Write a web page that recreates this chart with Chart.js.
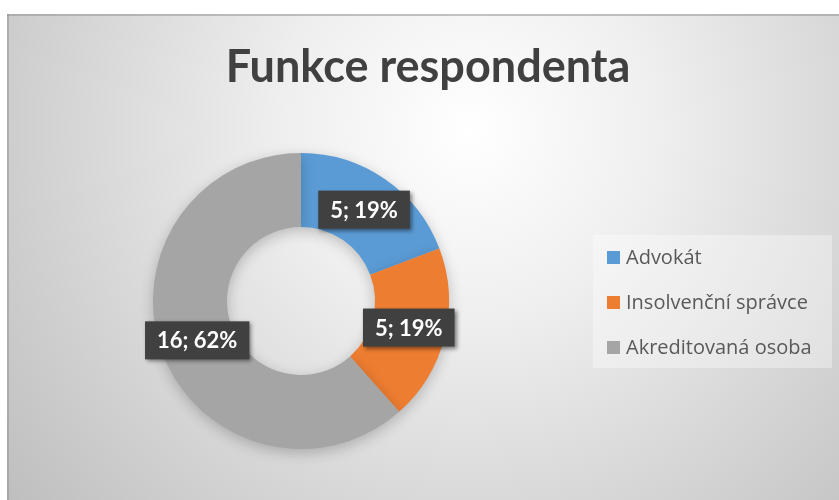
<!DOCTYPE html>
<html>
<head>
<meta charset="utf-8">
<script src="https://cdn.jsdelivr.net/npm/chart.js@4.4.1/dist/chart.umd.min.js"></script>
<style>
  html, body { margin: 0; padding: 0; background: #fff; }
  canvas { display: block; }
</style>
</head>
<body>
<canvas id="chart" width="839" height="500"></canvas>
<script>
// data
const chartTitle = 'Funkce respondenta';
const categories = ['Advokát', 'Insolvenční správce', 'Akreditovaná osoba'];
const counts = [5, 5, 16];
const colors = ['#5B9BD5', '#ED7D31', '#A5A5A5'];

const total = counts.reduce((s, x) => s + x, 0);
const FONT = 'Lato, "Open Sans", "Liberation Sans", sans-serif';

// panel background, title and legend
const backdrop = {
  id: 'backdrop',
  beforeDraw(chart) {
    const ctx = chart.ctx;
    ctx.save();
    ctx.fillStyle = '#ffffff';
    ctx.fillRect(0, 0, chart.width, chart.height);
    const g = ctx.createRadialGradient(470, 130, 0, 470, 130, 620);
    g.addColorStop(0, '#ffffff');
    g.addColorStop(0.3, '#efefef');
    g.addColorStop(1, '#bbbbbb');
    ctx.fillStyle = g;
    ctx.fillRect(7, 14, chart.width - 7, chart.height - 14);
    // thin edge on top / left
    ctx.fillStyle = 'rgba(150,150,150,0.55)';
    ctx.fillRect(7, 14, chart.width - 7, 2);
    ctx.fillRect(7, 14, 2, chart.height - 14);

    // title
    ctx.fillStyle = '#404040';
    ctx.font = 'bold 45px ' + FONT;
    ctx.textAlign = 'center';
    ctx.textBaseline = 'alphabetic';
    ctx.fillText(chartTitle, 428, 82);

    // legend box
    ctx.fillStyle = 'rgba(255,255,255,0.35)';
    ctx.fillRect(593, 235, 239, 133);
    ctx.font = '20px "Open Sans", ' + FONT;
    ctx.textAlign = 'left';
    ctx.textBaseline = 'middle';
    const rowY = [257, 302, 347];
    categories.forEach((name, i) => {
      ctx.fillStyle = colors[i];
      ctx.fillRect(607, rowY[i] - 6, 13, 13);
      ctx.fillStyle = '#595959';
      ctx.fillText(name, 626, rowY[i] + 1);
    });
    ctx.restore();
  },
  beforeDatasetsDraw(chart) {
    const ctx = chart.ctx;
    ctx.save();
    ctx.shadowColor = 'rgba(0,0,0,0.22)';
    ctx.shadowBlur = 14;
    ctx.shadowOffsetY = 4;
  },
  afterDatasetsDraw(chart) {
    chart.ctx.restore();
  }
};

// dark data-label boxes "value; percent"
const valueLabels = {
  id: 'valueLabels',
  afterDraw(chart) {
    const ctx = chart.ctx;
    const meta = chart.getDatasetMeta(0);
    ctx.save();
    ctx.font = 'bold 22px ' + FONT;
    ctx.textAlign = 'center';
    ctx.textBaseline = 'middle';
    meta.data.forEach((arc, i) => {
      const p = arc.tooltipPosition();
      const txt = counts[i] + '; ' + Math.round(counts[i] / total * 100) + '%';
      const w = ctx.measureText(txt).width + 24;
      const h = 38;
      ctx.save();
      ctx.shadowColor = 'rgba(0,0,0,0.45)';
      ctx.shadowBlur = 4;
      ctx.shadowOffsetX = 2;
      ctx.shadowOffsetY = 2;
      ctx.fillStyle = '#404040';
      ctx.fillRect(p.x - w / 2, p.y - h / 2, w, h);
      ctx.restore();
      ctx.fillStyle = '#ffffff';
      ctx.fillText(txt, p.x, p.y + 1);
    });
    ctx.restore();
  }
};

new Chart(document.getElementById('chart'), {
  type: 'doughnut',
  data: {
    labels: categories,
    datasets: [{
      data: counts,
      backgroundColor: colors,
      borderWidth: 0
    }]
  },
  options: {
    responsive: false,
    animation: false,
    cutout: '50%',
    layout: { padding: { left: 153, right: 390, top: 153, bottom: 51 } },
    plugins: {
      legend: { display: false },
      title: { display: false },
      tooltip: { enabled: false }
    }
  },
  plugins: [backdrop, valueLabels]
});
</script>
</body>
</html>
